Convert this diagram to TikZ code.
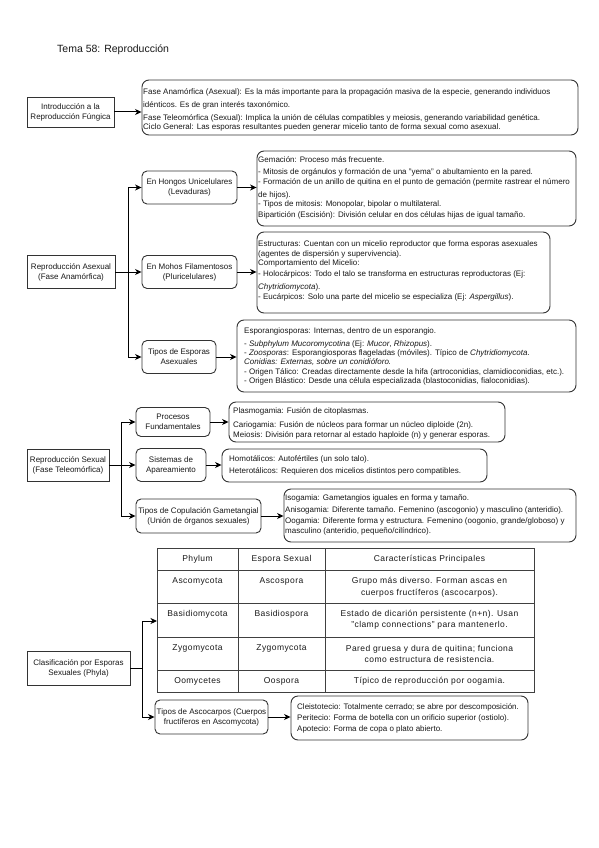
\documentclass[tikz,border=0pt]{standalone}
\usepackage{fontspec}
\setmainfont{Liberation Sans}
\usetikzlibrary{arrows.meta,calc}
\begin{document}
\begin{tikzpicture}[x=1pt,y=-1pt,
  lbl/.style={font=\fontsize{8}{10}\selectfont, text=black!90},
  box/.style={lbl, draw=black!80, line width=0.9pt, align=center, inner sep=0pt},
  rbox/.style={box, rounded corners=5pt},
  dbox/.style={draw=black!80, line width=0.9pt, rounded corners=7pt, inner sep=0pt},
  dt/.style={lbl, anchor=west, inner sep=0pt, text height=6pt, text depth=1.5pt},
  arr/.style={draw=black, line width=1pt, -{Stealth[length=6.5pt,width=6pt,inset=2pt]}},
  grid/.style={draw=black!75, line width=0.9pt},
  th/.style={font=\fontsize{8.5}{11.5}\selectfont\addfontfeatures{LetterSpace=5}, text=black!90, align=center, inner sep=0pt},
]
\useasboundingbox (0,0) rectangle (599,848);
\fill[white] (0,0) rectangle (599,848);

\node[lbl, anchor=west, font=\fontsize{10.5}{12}\selectfont, inner sep=0pt] (title) at (57,50) {Tema 58: Reproducción};

% ---------- Introduction ----------
\node[box, minimum width=87pt, minimum height=30pt] (intro) at (70.5,112) {Introducción a la\\Reproducción Fúngica};
\node[dbox, minimum width=436pt, minimum height=55pt] (introd) at (360,107.5) {};
\node[dt] (introd1) at (143,92) {Fase Anamórfica (Asexual): Es la más importante para la propagación masiva de la especie, generando individuos};
\node[dt] (introd2) at (143,105) {idénticos. Es de gran interés taxonómico.};
\node[dt] (introd3) at (143,118) {Fase Teleomórfica (Sexual): Implica la unión de células compatibles y meiosis, generando variabilidad genética.};
\node[dt] (introd4) at (143,127.5) {Ciclo General: Las esporas resultantes pueden generar micelio tanto de forma sexual como asexual.};
\draw[arr] (intro.east) -- (intro.east -| introd.west);

% ---------- Asexual ----------
\node[box, minimum width=88pt, minimum height=33pt] (asx) at (71,272) {Reproducción Asexual\\(Fase Anamórfica)};
\node[rbox, minimum width=95pt, minimum height=33pt] (hong) at (189.5,187.5) {En Hongos Unicelulares\\(Levaduras)};
\node[rbox, minimum width=95pt, minimum height=33pt] (moh) at (189.5,272) {En Mohos Filamentosos\\(Pluricelulares)};
\node[rbox, minimum width=74pt, minimum height=33pt] (tip) at (179,357) {Tipos de Esporas\\Asexuales};
\draw[arr] (asx.east) -- ++(13,0) |- (hong.west);
\draw[arr] (asx.east) -- (moh.west);
\draw[arr] (asx.east) -- ++(13,0) |- (tip.west);

\node[dbox, minimum width=319pt, minimum height=75pt] (hongd) at (416.5,188.5) {};
\node[dt] (hongd1) at (258,160) {Gemación: Proceso más frecuente.};
\node[dt] (hongd2) at (258,172.5) {- Mitosis de orgánulos y formación de una "yema" o abultamiento en la pared.};
\node[dt] (hongd3) at (258,182) {- Formación de un anillo de quitina en el punto de gemación (permite rastrear el número};
\node[dt] (hongd4) at (258,195) {de hijos).};
\node[dt] (hongd5) at (258,204.5) {- Tipos de mitosis: Monopolar, bipolar o multilateral.};
\node[dt] (hongd6) at (258,215) {Bipartición (Escisión): División celular en dos células hijas de igual tamaño.};
\draw[arr] (hong.east) -- (hong.east -| hongd.west);

\node[dbox, minimum width=293pt, minimum height=81pt] (mohd) at (403.5,272.5) {};
\node[dt] (mohd1) at (258,244) {Estructuras: Cuentan con un micelio reproductor que forma esporas asexuales};
\node[dt] (mohd2) at (258,254) {(agentes de dispersión y supervivencia).};
\node[dt] (mohd3) at (258,263.5) {Comportamiento del Micelio:};
\node[dt] (mohd4) at (258,274) {- Holocárpicos: Todo el talo se transforma en estructuras reproductoras (Ej:};
\node[dt] (mohd5) at (258,287) {\textit{Chytridiomycota}).};
\node[dt] (mohd6) at (258,297) {- Eucárpicos: Solo una parte del micelio se especializa (Ej: \textit{Aspergillus}).};
\draw[arr] (moh.east) -- (moh.east -| mohd.west);

\node[dbox, minimum width=339pt, minimum height=72pt] (tipd) at (406.5,356) {};
\node[dt] (tipd1) at (244,331) {Esporangiosporas: Internas, dentro de un esporangio.};
\node[dt] (tipd2) at (244,344) {- \textit{Subphylum Mucoromycotina} (Ej: \textit{Mucor}, \textit{Rhizopus}).};
\node[dt] (tipd3) at (244,353) {- \textit{Zoosporas}: Esporangiosporas flageladas (móviles). Típico de \textit{Chytridiomycota}.};
\node[dt] (tipd4) at (244,362.5) {\textit{Conidias: Externas, sobre un conidióforo.}};
\node[dt] (tipd5) at (244,372) {- Origen Tálico: Creadas directamente desde la hifa (artroconidias, clamidioconidias, etc.).};
\node[dt] (tipd6) at (244,381) {- Origen Blástico: Desde una célula especializada (blastoconidias, fialoconidias).};
\draw[arr] (tip.east) -- (tip.east -| tipd.west);

% ---------- Sexual ----------
\node[box, minimum width=82pt, minimum height=32pt] (sx) at (68,465) {Reproducción Sexual\\(Fase Teleomórfica)};
\node[rbox, minimum width=74pt, minimum height=29pt] (proc) at (173,422) {Procesos\\Fundamentales};
\node[rbox, minimum width=70pt, minimum height=33pt] (sist) at (171,465) {Sistemas de\\Apareamiento};
\node[rbox, minimum width=125pt, minimum height=34pt] (cop) at (198.5,516) {Tipos de Copulación Gametangial\\(Unión de órganos sexuales)};
\draw[arr] (sx.east) -- ++(12,0) |- (proc.west);
\draw[arr] (sx.east) -- (sist.west);
\draw[arr] (sx.east) -- ++(12,0) |- (cop.west);

\node[dbox, minimum width=276pt, minimum height=40pt] (procd) at (367,422) {};
\node[dt] (procd1) at (233,411) {Plasmogamia: Fusión de citoplasmas.};
\node[dt] (procd2) at (233,425) {Cariogamia: Fusión de núcleos para formar un núcleo diploide (2n).};
\node[dt] (procd3) at (233,435) {Meiosis: División para retornar al estado haploide (n) y generar esporas.};
\draw[arr] (proc.east) -- (proc.east -| procd.west);

\node[dbox, minimum width=265pt, minimum height=33pt] (sistd) at (354.5,465.5) {};
\node[dt] (sistd1) at (229,459.5) {Homotálicos: Autofértiles (un solo talo).};
\node[dt] (sistd2) at (229,471) {Heterotálicos: Requieren dos micelios distintos pero compatibles.};
\draw[arr] (sist.east) -- (sist.east -| sistd.west);

\node[dbox, minimum width=292pt, minimum height=53pt] (copd) at (430,515.5) {};
\node[dt] (copd1) at (285,498) {Isogamia: Gametangios iguales en forma y tamaño.};
\node[dt] (copd2) at (285,510) {Anisogamia: Diferente tamaño. Femenino (ascogonio) y masculino (anteridio).};
\node[dt] (copd3) at (285,521) {Oogamia: Diferente forma y estructura. Femenino (oogonio, grande/globoso) y};
\node[dt] (copd4) at (285,531.5) {masculino (anteridio, pequeño/cilíndrico).};
\draw[arr] (cop.east) -- (cop.east -| copd.west);

% ---------- Classification ----------
\node[box, minimum width=103pt, minimum height=34pt] (cls) at (78.5,668) {Clasificación por Esporas\\Sexuales (Phyla)};
\node[draw=black!75, line width=0.9pt, minimum width=377pt, minimum height=144pt, inner sep=0pt] (tbl) at (345.5,620) {};
\draw[grid] (238,548) -- (238,692);
\draw[grid] (325,548) -- (325,692);
\draw[grid] (157,570) -- (534,570);
\draw[grid] (157,603) -- (534,603);
\draw[grid] (157,637) -- (534,637);
\draw[grid] (157,670) -- (534,670);
\node[th] (h1) at (197.5,559) {Phylum};
\node[th] (h2) at (281.5,559) {Espora Sexual};
\node[th] (h3) at (429.5,559) {Características Principales};
\node[th] (a1) at (197.5,581) {Ascomycota};
\node[th] (a2) at (281.5,581) {Ascospora};
\node[th] (a3) at (429.5,587) {Grupo más diverso. Forman ascas en\\cuerpos fructíferos (ascocarpos).};
\node[th] (b1) at (197.5,614) {Basidiomycota};
\node[th] (b2) at (281.5,614) {Basidiospora};
\node[th] (b3) at (429.5,619.5) {Estado de dicarión persistente (n+n). Usan\\"clamp connections" para mantenerlo.};
\node[th] (z1) at (197.5,648) {Zygomycota};
\node[th] (z2) at (281.5,648) {Zygomycota};
\node[th] (z3) at (429.5,654) {Pared gruesa y dura de quitina; funciona\\como estructura de resistencia.};
\node[th] (o1) at (197.5,681) {Oomycetes};
\node[th] (o2) at (281.5,681) {Oospora};
\node[th] (o3) at (429.5,681) {Típico de reproducción por oogamia.};
\coordinate (tblin) at (157,621);

\node[rbox, minimum width=113pt, minimum height=34pt] (asc) at (211.5,717) {Tipos de Ascocarpos (Cuerpos\\fructíferos en Ascomycota)};
\draw[arr] (cls.east) -- ++(12,0) |- (tblin);
\draw[arr] (cls.east) -- ++(12,0) |- (asc.west);

\node[dbox, minimum width=237pt, minimum height=44pt] (ascd) at (409.5,718) {};
\node[dt] (ascd1) at (297,707) {Cleistotecio: Totalmente cerrado; se abre por descomposición.};
\node[dt] (ascd2) at (297,718.5) {Peritecio: Forma de botella con un orificio superior (ostiolo).};
\node[dt] (ascd3) at (297,729) {Apotecio: Forma de copa o plato abierto.};
\draw[arr] (asc.east) -- (asc.east -| ascd.west);
\end{tikzpicture}
\end{document}
